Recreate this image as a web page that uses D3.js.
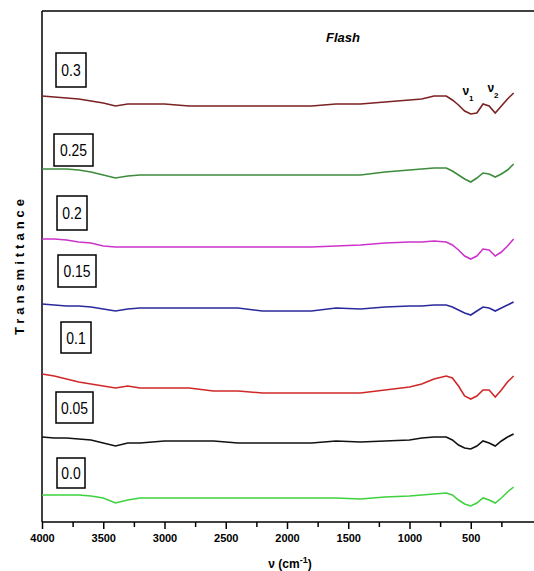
<!DOCTYPE html>
<html>
<head>
<meta charset="utf-8">
<script src="https://cdn.jsdelivr.net/npm/d3@7"></script>
<style>
  body { margin: 0; background: #fff; }
  svg { display: block; }
</style>
</head>
<body>
<div id="chart"></div>
<script>
// wavenumber grid (cm-1), shared by every curve
var wavenumber = [4000, 3900, 3800, 3700, 3600, 3500, 3400, 3300, 3200, 3000, 2800, 2600, 2400, 2200, 2000, 1800, 1600,
                  1400, 1200, 1000, 900, 800, 700, 650, 600, 550, 500, 450, 400, 350, 300, 250, 200, 150];

// transmittance, arbitrary units (curves stacked with offsets)
var t030 = [42.6, 42.5, 42.4, 42.3, 42.1, 41.9, 41.6, 41.8, 41.8, 41.8, 41.6, 41.6, 41.6, 41.6, 41.6, 41.6, 41.8,
            41.8, 42.0, 42.2, 42.3, 42.6, 42.6, 42.2, 41.7, 41.1, 40.8, 40.9, 41.8, 41.6, 40.9, 41.6, 42.3, 42.9];
var t025 = [35.3, 35.3, 35.3, 35.2, 35.0, 34.7, 34.4, 34.6, 34.7, 34.7, 34.7, 34.7, 34.7, 34.7, 34.7, 34.7, 34.7,
            34.7, 35.0, 35.2, 35.3, 35.4, 35.4, 35.1, 34.7, 34.3, 34.0, 34.4, 34.9, 34.8, 34.5, 34.8, 35.2, 35.8];
var t020 = [28.3, 28.3, 28.2, 28.0, 27.9, 27.6, 27.5, 27.5, 27.5, 27.5, 27.5, 27.5, 27.5, 27.5, 27.5, 27.5, 27.6,
            27.7, 27.9, 28.0, 28.0, 28.1, 28.0, 27.7, 27.2, 26.6, 26.3, 26.6, 27.3, 27.2, 26.6, 27.0, 27.6, 28.3];
var t015 = [21.8, 21.7, 21.6, 21.6, 21.5, 21.3, 21.1, 21.3, 21.4, 21.4, 21.4, 21.4, 21.4, 21.1, 21.1, 21.1, 21.4,
            21.3, 21.5, 21.6, 21.6, 21.7, 21.7, 21.5, 21.2, 20.9, 20.7, 21.1, 21.5, 21.4, 21.1, 21.4, 21.7, 22.0];
var t010 = [14.8, 14.6, 14.3, 14.0, 13.8, 13.6, 13.4, 13.6, 13.4, 13.4, 13.4, 13.1, 13.1, 12.9, 12.9, 12.9, 12.9,
            12.9, 13.2, 13.5, 13.8, 14.3, 14.6, 14.4, 13.6, 12.6, 12.3, 12.6, 13.2, 13.2, 12.5, 13.2, 14.0, 14.6];
var t005 = [8.5, 8.4, 8.4, 8.3, 8.2, 7.9, 7.6, 7.9, 7.9, 8.1, 8.1, 8.1, 7.9, 7.9, 7.9, 7.9, 8.1,
            8.0, 8.1, 8.2, 8.4, 8.5, 8.5, 8.2, 7.7, 7.4, 7.3, 7.6, 8.1, 7.9, 7.6, 8.1, 8.5, 8.8];
var t000 = [2.7, 2.7, 2.7, 2.7, 2.6, 2.4, 1.9, 2.2, 2.4, 2.4, 2.4, 2.4, 2.4, 2.4, 2.4, 2.4, 2.4,
            2.3, 2.5, 2.6, 2.7, 2.8, 2.9, 2.7, 2.2, 1.8, 1.6, 1.9, 2.4, 2.2, 1.9, 2.4, 3.0, 3.5];

var seriesLabels = ["0.3", "0.25", "0.2", "0.15", "0.1", "0.05", "0.0"];
var seriesValues = [t030, t025, t020, t015, t010, t005, t000];
var seriesColors = ["#7b2222", "#3c8c3c", "#cc33cc", "#2a2a9c", "#d02828", "#111111", "#3fd23f"];

var majorTicks = [4000, 3500, 3000, 2500, 2000, 1500, 1000, 500];
var minorTicks = [3750, 3250, 2750, 2250, 1750, 1250, 750, 250];

// label box placement (left x, top y, width, height) - layout only
var boxLayout = [[56, 53, 30, 34], [54, 134, 39, 32], [57, 196, 30, 34], [58, 255, 38, 32],
                 [61, 322, 30, 31], [56, 392, 37, 31], [57, 458, 28, 30]];

var width = 534, height = 571;
var marginLeft = 42, plotTop = 11, plotBottom = 522;

var svg = d3.select("#chart").append("svg")
    .attr("width", width)
    .attr("height", height);

var x = d3.scaleLinear().domain([4000, 0]).range([marginLeft, 532]);
var y = d3.scaleLinear().domain([0, 51.1]).range([plotBottom, plotTop]);

// frame
svg.append("line")
    .attr("x1", marginLeft).attr("x2", width)
    .attr("y1", plotTop).attr("y2", plotTop)
    .style("stroke", "#000").style("stroke-width", 1.5);
svg.append("line")
    .attr("x1", marginLeft).attr("x2", marginLeft)
    .attr("y1", plotTop).attr("y2", plotBottom)
    .style("stroke", "#000").style("stroke-width", 1.5);

// bottom axis
var xAxis = svg.append("g")
    .attr("transform", "translate(0," + plotBottom + ")")
    .call(d3.axisBottom(x).tickValues(majorTicks).tickSize(7).tickSizeOuter(0).tickFormat(d3.format("d")));
xAxis.select(".domain").remove();
xAxis.append("line")
    .attr("x1", marginLeft).attr("x2", width)
    .style("stroke", "#000").style("stroke-width", 1.5);
xAxis.selectAll(".tick line").style("stroke-width", 1.5);
xAxis.selectAll(".tick text")
    .attr("dy", "0.95em")
    .style("font-family", "'Liberation Sans', Arial, sans-serif")
    .style("font-size", "11px")
    .style("font-weight", "bold")
    .style("fill", "#000");

var minor = svg.append("g")
    .attr("transform", "translate(0," + plotBottom + ")")
    .call(d3.axisBottom(x).tickValues(minorTicks).tickSize(5).tickFormat(""));
minor.select(".domain").remove();
minor.selectAll(".tick line").style("stroke-width", 1.5);

svg.append("text")
    .attr("x", 290)
    .attr("y", 568)
    .attr("text-anchor", "middle")
    .style("font-family", "'Liberation Sans', Arial, sans-serif")
    .style("font-size", "12px")
    .style("font-weight", "bold")
    .html("ν (cm<tspan dy='-5' font-size='9px'>-1</tspan><tspan dy='5'>)</tspan>");

svg.append("text")
    .attr("transform", "translate(24,265) rotate(-90)")
    .attr("text-anchor", "middle")
    .style("font-family", "'Liberation Sans', Arial, sans-serif")
    .style("font-size", "13px")
    .style("font-weight", "bold")
    .style("letter-spacing", "4px")
    .text("Transmittance");

svg.append("text")
    .attr("x", 343)
    .attr("y", 42)
    .attr("text-anchor", "middle")
    .style("font-family", "'Liberation Sans', Arial, sans-serif")
    .style("font-size", "13px")
    .style("font-weight", "bold")
    .style("font-style", "italic")
    .text("Flash");

// curves
var line = d3.line()
    .x(function(d) { return x(d[0]); })
    .y(function(d) { return y(d[1]); });

svg.selectAll("path.curve")
    .data(seriesValues)
    .enter()
    .append("path")
    .attr("class", "curve")
    .attr("d", function(d) {
        return line(d3.zip(wavenumber, d));
    })
    .style("fill", "none")
    .style("stroke", function(d, i) { return seriesColors[i]; })
    .style("stroke-width", 1.6);

// boxed labels
var boxes = svg.selectAll("g.lbl")
    .data(seriesLabels)
    .enter()
    .append("g")
    .attr("class", "lbl")
    .attr("transform", function(d, i) {
        return "translate(" + boxLayout[i][0] + "," + boxLayout[i][1] + ")";
    });
boxes.append("rect")
    .attr("width", function(d, i) { return boxLayout[i][2]; })
    .attr("height", function(d, i) { return boxLayout[i][3]; })
    .style("fill", "#fff")
    .style("stroke", "#000")
    .style("stroke-width", 1.5);
boxes.append("text")
    .attr("transform", function(d, i) {
        return "translate(" + (boxLayout[i][2] / 2) + "," + (boxLayout[i][3] / 2 + 6) + ") scale(0.82,1)";
    })
    .attr("text-anchor", "middle")
    .style("font-family", "'Liberation Sans', Arial, sans-serif")
    .style("font-size", "17px")
    .style("fill", "#000")
    .text(function(d) { return d; });

// band markers
var bands = [["1", 468, 95], ["2", 493, 92]];
svg.selectAll("text.band")
    .data(bands)
    .enter()
    .append("text")
    .attr("class", "band")
    .attr("x", function(d) { return d[1]; })
    .attr("y", function(d) { return d[2]; })
    .attr("text-anchor", "middle")
    .style("font-family", "'Liberation Sans', Arial, sans-serif")
    .style("font-size", "12px")
    .style("font-weight", "bold")
    .html(function(d) { return "ν<tspan dy='6' font-size='8px'>" + d[0] + "</tspan>"; });
</script>
</body>
</html>
